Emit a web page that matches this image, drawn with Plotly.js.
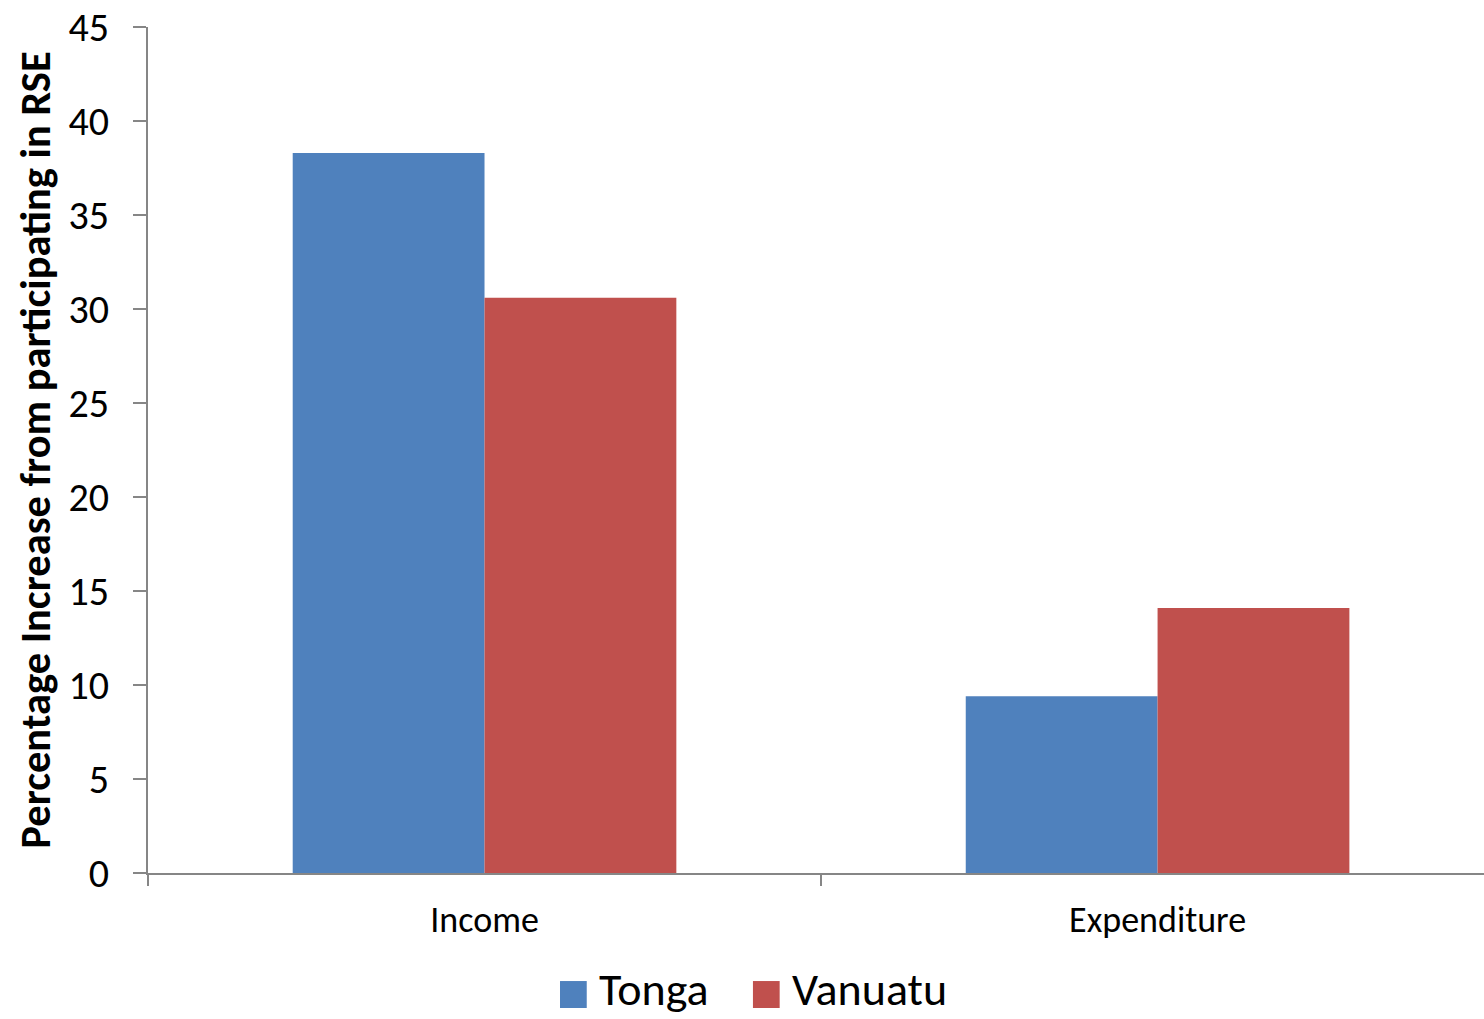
<!DOCTYPE html>
<html>
<head>
<meta charset="utf-8">
<script src="https://cdn.plot.ly/plotly-3.0.1.min.js"></script>
<style>
  html, body { margin: 0; padding: 0; background: #fff; }
  #chart { width: 1484px; height: 1019px; }
</style>
</head>
<body>
<div id="chart"></div>
<script>
// Percentage increase from participating in RSE, by household measure
const categories = ['Income', 'Expenditure'];
const seriesNames = ['Tonga', 'Vanuatu'];
const tongaValues = [38.3, 9.4];
const vanuatuValues = [30.6, 14.1];
const seriesColors = ['#4F81BD', '#C0504D'];
const yTicks = [0, 5, 10, 15, 20, 25, 30, 35, 40, 45];

const FONT = 'Carlito, Lato, "Open Sans", sans-serif';
const AXIS_GREY = '#868686';

const traces = [tongaValues, vanuatuValues].map((vals, i) => ({
  type: 'bar',
  name: seriesNames[i],
  x: categories,
  y: vals,
  marker: { color: seriesColors[i], line: { width: 0 } },
  showlegend: false,
  hoverinfo: 'x+y+name'
}));

// Legend drawn as swatches + labels beneath the plot
const swatchX = [0.3084, 0.4528];   // paper x of each swatch's left edge
const labelX = [0.3360, 0.4805];    // paper x of each label's left edge
const shapes = [];
const annotations = [];
seriesNames.forEach((name, i) => {
  shapes.push({
    type: 'rect', xref: 'paper', yref: 'paper',
    x0: swatchX[i], x1: swatchX[i] + 0.0200,
    y0: -0.1596, y1: -0.1277,
    fillcolor: seriesColors[i], line: { width: 0 }
  });
  annotations.push({
    xref: 'paper', yref: 'paper',
    x: labelX[i], y: -0.1725,
    xanchor: 'left', yanchor: 'bottom',
    text: name, showarrow: false,
    font: { family: FONT, size: 46, color: '#000' }
  });
});

const layout = {
  width: 1484,
  height: 1019,
  paper_bgcolor: '#fff',
  plot_bgcolor: '#fff',
  margin: { l: 148, r: 0, t: 27, b: 146, pad: 0 },
  barmode: 'group',
  bargap: 0.43,
  bargroupgap: 0,
  showlegend: false,
  font: { family: FONT, color: '#000' },
  xaxis: {
    type: 'category',
    range: [-0.5, 1.485],
    showline: true, linecolor: AXIS_GREY, linewidth: 2,
    ticks: 'outside', tickson: 'boundaries', ticklen: 11, tickwidth: 2, tickcolor: AXIS_GREY,
    tickfont: { family: FONT, size: 36, color: '#000' },
    ticklabelstandoff: 14,
    showgrid: false, zeroline: false, fixedrange: true
  },
  yaxis: {
    range: [0, 45],
    tickvals: yTicks,
    ticktext: yTicks.map(String),
    showline: true, linecolor: AXIS_GREY, linewidth: 2,
    ticks: 'outside', ticklen: 13, tickwidth: 2, tickcolor: AXIS_GREY,
    tickfont: { family: FONT, size: 40, color: '#000' },
    ticklabelstandoff: 16,
    showgrid: false, zeroline: false, fixedrange: true,
    automargin: false,
    title: {
      text: 'Percentage Increase from participating in RSE',
      font: { family: FONT, size: 42.5, color: '#000', weight: 'bold' },
      standoff: 5
    }
  },
  shapes: shapes,
  annotations: annotations
};

Plotly.newPlot('chart', traces, layout, { displayModeBar: false, staticPlot: true });
</script>
</body>
</html>
